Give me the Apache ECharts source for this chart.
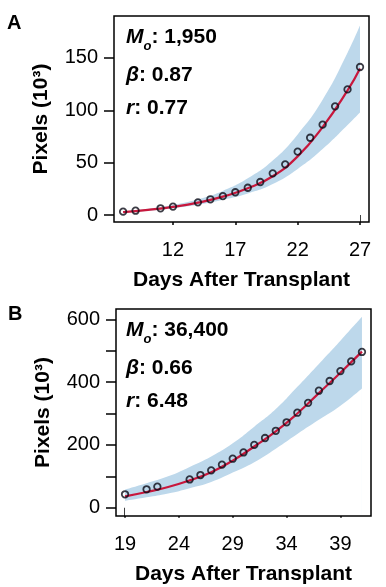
<!DOCTYPE html>
<html><head><meta charset="utf-8">
<script src="https://cdn.jsdelivr.net/npm/echarts@6/dist/echarts.min.js"></script>
<style>html,body{margin:0;padding:0;background:#fff}#c{width:386px;height:587px}</style>
</head><body><div id="c"></div>
<script>
// ---- Panel A data ----
const daysA   = [8, 9, 11, 12, 14, 15, 16, 17, 18, 19, 20, 21, 22, 23, 24, 25, 26, 27];
const pixelsA = [3.2, 4.1, 6.4, 8, 12.1, 15, 18, 21.7, 26, 31.5, 39.8, 48.4, 60.5, 73.8, 86.3, 103.8, 120, 141.4];
const curveDaysA = [8, 10, 12, 14, 16, 18, 20, 22, 24, 26, 27];
const fitA   = [2.8, 4.9, 7.8, 11.8, 17.5, 25.5, 37, 56, 84, 119, 140];
const lowerA = [2.2, 4.0, 6.5, 9.8, 14.5, 20.5, 29.5, 44, 63, 86, 98];
const upperA = [3.4, 5.9, 9.5, 15, 23, 35, 52, 77, 110, 155, 181];
const xTicksA = [12, 17, 22, 27];
const yTicksA = [0, 50, 100, 150];
const statsA = {mo: '1,950', beta: '0.87', r: '0.77'};

// ---- Panel B data ----
const daysB   = [19, 21, 22, 25, 26, 27, 28, 29, 30, 31, 32, 33, 34, 35, 36, 37, 38, 39, 40, 41];
const pixelsB = [42.7, 58.6, 67, 90, 104, 119, 137, 156, 176, 200, 222, 245, 272, 302.5, 334, 372.6, 403.5, 435, 466, 496];
const curveDaysB = [19, 21, 23, 25, 27, 29, 31, 33, 35, 37, 39, 41];
const fitB   = [36, 50, 66, 87, 113, 150, 195, 243, 300, 365, 430, 497];
const lowerB = [22, 33, 45, 62, 82, 112, 145, 188, 235, 280, 325, 380];
const upperB = [58, 78, 100, 130, 163, 205, 258, 314, 385, 458, 532, 608];
const xTicksB = [19, 24, 29, 34, 39];
const yTicksB = [0, 100, 200, 300, 400, 500, 600];
const yLabelsB = [0, 200, 400, 600];
const statsB = {mo: '36,400', beta: '0.66', r: '6.48'};

const F = '"Liberation Sans", Arial, Helvetica, sans-serif';
const pairs = (xs, ys) => xs.map((x, i) => [x, ys[i]]);

function xAxis(gi, min, max, ticks) {
  return {
    type: 'value', gridIndex: gi, min: min, max: max,
    axisLine: {show: false},
    axisTick: {show: true, length: 10, lineStyle: {color: '#000', width: 1.5}, customValues: ticks},
    axisLabel: {customValues: ticks, fontFamily: F, fontSize: 20, color: '#000', margin: 18},
    splitLine: {show: false},
    name: 'Days After Transplant', nameLocation: 'middle', nameGap: 48,
    nameTextStyle: {fontFamily: F, fontWeight: 'bold', fontSize: 21, color: '#000'}
  };
}
function yAxis(gi, min, max, ticks, labels) {
  return {
    type: 'value', gridIndex: gi, min: min, max: max,
    axisLine: {show: false},
    axisTick: {show: true, length: 10, lineStyle: {color: '#000', width: 1.5}, customValues: ticks},
    axisLabel: {customValues: labels, fontFamily: F, fontSize: 20, color: '#000', margin: 16},
    splitLine: {show: false},
    name: 'Pixels (10³)', nameLocation: 'middle', nameGap: 62,
    nameTextStyle: {fontFamily: F, fontWeight: 'bold', fontSize: 21, color: '#000'}
  };
}
// band: blue area under the upper edge, then white area under the lower edge
function bandSeries(gi, days, lower, upper) {
  return [
    {type: 'line', xAxisIndex: gi, yAxisIndex: gi, smooth: true, symbol: 'none',
     lineStyle: {width: 0, opacity: 0}, areaStyle: {color: '#bdd8eb', opacity: 1, origin: 'start'},
     data: pairs(days, upper), silent: true, z: 1},
    {type: 'line', xAxisIndex: gi, yAxisIndex: gi, smooth: true, symbol: 'none',
     lineStyle: {width: 0, opacity: 0}, areaStyle: {color: '#ffffff', opacity: 1, origin: 'start'},
     data: pairs(days, lower), silent: true, z: 1}
  ];
}
function fitSeries(gi, days, fit) {
  return {type: 'line', xAxisIndex: gi, yAxisIndex: gi, smooth: true, symbol: 'none',
    lineStyle: {color: '#c8173c', width: 2.2}, data: pairs(days, fit), z: 2};
}
function pointSeries(gi, days, vals) {
  return {type: 'scatter', xAxisIndex: gi, yAxisIndex: gi, symbol: 'circle', symbolSize: 6.5,
    itemStyle: {color: 'rgba(0,0,0,0)', borderColor: '#0b0b16', borderWidth: 1.8},
    data: pairs(days, vals), z: 3};
}
const rich = {
  m: {fontFamily: F, fontSize: 21, fontWeight: 'bold', fontStyle: 'italic', fill: '#000'},
  s: {fontFamily: F, fontSize: 13, fontWeight: 'bold', fontStyle: 'italic', fill: '#000', padding: [18, 0, 0, 0]},
  t: {fontFamily: F, fontSize: 21, fontWeight: 'bold', fill: '#000'}
};
function statTexts(x, y0, st) {
  return [
    {type: 'text', left: x, top: y0 + 1, z: 20, style: {text: '{m|M}{s|o}{t|: ' + st.mo + '}', rich: rich}},
    {type: 'text', left: x, top: y0 + 39, z: 20, style: {text: '{m|β}{t|: ' + st.beta + '}', rich: rich}},
    {type: 'text', left: x, top: y0 + 72, z: 20, style: {text: '{m|r}{t|: ' + st.r + '}', rich: rich}}
  ];
}
function frame(l, t, w, h) {
  return {type: 'rect', z: 30, silent: true, shape: {x: l, y: t, width: w, height: h},
    style: {fill: null, stroke: '#000', lineWidth: 1.5}};
}

const chart = echarts.init(document.getElementById('c'), null, {renderer: 'canvas'});
chart.setOption({
  animation: false,
  backgroundColor: '#fff',
  grid: [
    {left: 114, top: 16, width: 255, height: 206, show: false},
    {left: 116, top: 309, width: 255, height: 207, show: false}
  ],
  xAxis: [xAxis(0, 7.27, 27.72, xTicksA), xAxis(1, 18.16, 41.84, xTicksB)],
  yAxis: [yAxis(0, -6.7, 190.1, yTicksA, yTicksA), yAxis(1, -26.4, 632.8, yTicksB, yLabelsB)],
  series: [
    ...bandSeries(0, curveDaysA, lowerA, upperA),
    fitSeries(0, curveDaysA, fitA),
    pointSeries(0, daysA, pixelsA),
    ...bandSeries(1, curveDaysB, lowerB, upperB),
    fitSeries(1, curveDaysB, fitB),
    pointSeries(1, daysB, pixelsB)
  ],
  graphic: [
    frame(114, 16, 255, 206),
    frame(116, 309, 255, 207),
    {type: 'text', left: 7, top: 13, style: {text: 'A', font: 'bold 20px ' + F, fill: '#000'}},
    {type: 'text', left: 8, top: 304, style: {text: 'B', font: 'bold 20px ' + F, fill: '#000'}},
    ...statTexts(126, 26, statsA),
    ...statTexts(126, 319, statsB)
  ]
});
</script></body></html>
